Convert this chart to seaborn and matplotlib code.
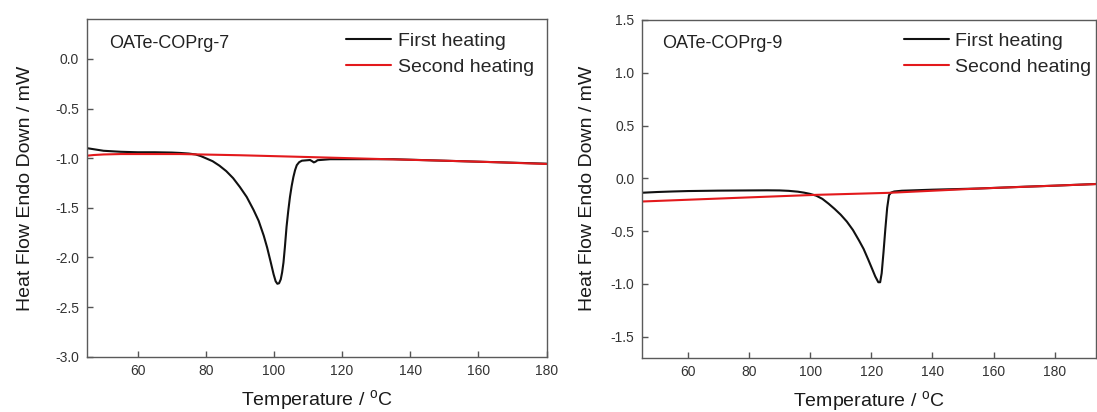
import matplotlib
matplotlib.use("Agg")
import matplotlib.pyplot as plt
import numpy as np
import pandas as pd
import seaborn as sns

# --- DSC traces, sample OATe-COPrg-7 ---
t7_first = [45, 50, 55, 60, 65, 70, 72.5, 75, 77, 78.5, 80, 82, 84, 86, 88, 90,
            92, 94, 95.5, 97, 98, 99, 99.9, 100.5, 101, 101.5, 102, 102.4,
            102.8, 103.2, 103.7, 104.2, 104.7, 105.2, 105.7, 106.2, 106.7,
            107.4, 108.2, 110.6, 111.2, 111.7, 112.2, 112.8, 116.5, 125, 135,
            145, 155, 165, 180]
hf7_first = [-0.898, -0.925, -0.935, -0.94, -0.94, -0.943, -0.947, -0.953,
             -0.962, -0.978, -1.0, -1.03, -1.075, -1.13, -1.2, -1.29, -1.39,
             -1.52, -1.63, -1.78, -1.9, -2.04, -2.17, -2.24, -2.265, -2.26,
             -2.22, -2.15, -2.05, -1.9, -1.69, -1.53, -1.39, -1.28, -1.19,
             -1.12, -1.07, -1.04, -1.025, -1.018, -1.03, -1.042, -1.035, -1.02,
             -1.01, -1.01, -1.01, -1.02, -1.03, -1.04, -1.055]
t7_second = [45, 47, 50, 55, 72.5, 90, 110, 131, 150, 165, 180]
hf7_second = [-0.975, -0.968, -0.962, -0.958, -0.958, -0.97, -0.988, -1.008,
              -1.025, -1.04, -1.058]

# --- DSC traces, sample OATe-COPrg-9 ---
t9_first = [45, 50, 55, 60, 70, 80, 86, 90, 93, 96, 98, 100, 102, 104, 106, 108,
            110, 112, 114, 116, 117.5, 119, 120.3, 121.3, 122.3, 122.9, 123.4,
            124, 124.6, 125.2, 125.8, 126.5, 127.5, 130, 140, 155, 170, 180,
            193.5]
hf9_first = [-0.137, -0.13, -0.125, -0.121, -0.117, -0.115, -0.114, -0.115,
             -0.119, -0.127, -0.136, -0.148, -0.165, -0.195, -0.24, -0.29,
             -0.345, -0.41, -0.49, -0.59, -0.67, -0.77, -0.86, -0.93, -0.985,
             -0.985, -0.9, -0.7, -0.48, -0.28, -0.16, -0.135, -0.125, -0.118,
             -0.108, -0.097, -0.08, -0.07, -0.054]
t9_second = [45, 89.9, 101.9, 125.6, 155.2, 193.5]
hf9_second = [-0.22, -0.17, -0.157, -0.138, -0.097, -0.055]

run_labels = ["First heating", "Second heating"]
run_colors = ["#111111", "#e3191c"]

sample_names = ["OATe-COPrg-7", "OATe-COPrg-9"]
x_limits = [(45, 180), (45, 193.5)]
y_limits = [(-3.0, 0.4), (-1.7, 1.5)]
y_ticks = [np.arange(-3.0, 0.01, 0.5), np.arange(-1.5, 1.51, 0.5)]
x_ticks = [60, 80, 100, 120, 140, 160, 180]


def make_frame(t1, y1, t2, y2):
    return pd.concat([
        pd.DataFrame({"T": t1, "HF": y1, "run": run_labels[0]}),
        pd.DataFrame({"T": t2, "HF": y2, "run": run_labels[1]}),
    ], ignore_index=True)


frames = [make_frame(t7_first, hf7_first, t7_second, hf7_second),
          make_frame(t9_first, hf9_first, t9_second, hf9_second)]

sns.set_theme(style="ticks")
plt.rcParams["font.family"] = ["Liberation Sans", "DejaVu Sans"]
plt.rcParams["mathtext.fontset"] = "custom"
plt.rcParams["mathtext.rm"] = "Liberation Sans"

fig = plt.figure(figsize=(10.97, 4.12), dpi=100)
axes = [fig.add_axes([0.0789, 0.1342, 0.4193, 0.8190]),
        fig.add_axes([0.5852, 0.1318, 0.4139, 0.8197])]

legend_anchor = [(0.564, 0.962), (0.577, 0.964)]
name_pos = [(0.0496, 0.929), (0.0434, 0.931)]
ylabel_x = [-0.132, -0.120]

for i, ax in enumerate(axes):
    sns.lineplot(data=frames[i], x="T", y="HF", hue="run", hue_order=run_labels,
                 palette=run_colors, estimator=None, sort=False, linewidth=1.5,
                 ax=ax)
    ax.set_xlim(*x_limits[i])
    ax.set_ylim(*y_limits[i])
    ax.set_xticks(x_ticks)
    ax.set_yticks(y_ticks[i])
    ax.yaxis.set_major_formatter(matplotlib.ticker.FormatStrFormatter("%.1f"))
    ax.tick_params(direction="in", length=4.5, width=1.0, color="#555555",
                   labelsize=10, labelcolor="#333333", pad=5.5)
    for sp in ax.spines.values():
        sp.set_visible(True)
        sp.set_color("#5a5a5a")
        sp.set_linewidth(1.0)

    ax.set_xlabel("Temperature / $^{\\mathrm{o}}$C", fontsize=14, color="#1a1a1a",
                  va="center")
    ax.xaxis.set_label_coords(0.5, -0.13)
    ax.set_ylabel("Heat Flow Endo Down / mW", fontsize=14, color="#1a1a1a",
                  va="center")
    ax.yaxis.set_label_coords(ylabel_x[i], 0.5)

    ax.text(name_pos[i][0], name_pos[i][1], sample_names[i], transform=ax.transAxes,
            fontsize=13, color="#222222", ha="left", va="center")

    handles, labels = ax.get_legend_handles_labels()
    ax.legend(handles, labels, loc="upper left", bbox_to_anchor=legend_anchor[i],
              frameon=False, fontsize=14, handlelength=2.3, handletextpad=0.35,
              labelspacing=0.45, borderpad=0, borderaxespad=0)

fig.savefig("out.png", dpi=100)
